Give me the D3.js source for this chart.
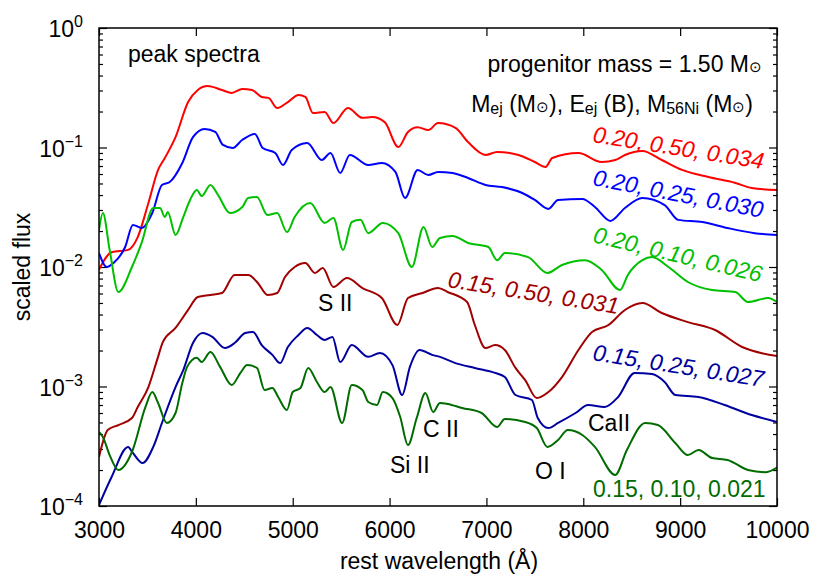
<!DOCTYPE html>
<html>
<head>
<meta charset="utf-8">
<script src="https://cdn.jsdelivr.net/npm/d3@7"></script>
<style>
  body { margin: 0; background: #fff; }
  svg text { font-family: "Liberation Sans", Arial, Helvetica, sans-serif; fill: #000; }
</style>
</head>
<body>
<svg id="chart" width="830" height="581"></svg>
<script>
// peak spectra, [wavelength (A), scaled flux]
const spec020_050 = [[3000,0.0095],[3130,0.0133],[3300,0.0139],[3400,0.0178],[3510,0.0343],[3610,0.0649],[3680,0.0817],[3790,0.122],[3920,0.240],[4020,0.303],[4120,0.327],[4270,0.303],[4370,0.286],[4480,0.309],[4580,0.303],[4680,0.265],[4750,0.260],[4840,0.214],[4950,0.240],[5060,0.275],[5130,0.265],[5210,0.194],[5330,0.198],[5420,0.160],[5570,0.214],[5720,0.177],[5820,0.180],[5950,0.163],[6090,0.101],[6190,0.135],[6290,0.148],[6400,0.140],[6500,0.160],[6680,0.146],[6810,0.111],[6990,0.0866],[7110,0.0917],[7330,0.0866],[7500,0.0756],[7610,0.0687],[7680,0.0817],[7950,0.0899],[8190,0.0756],[8330,0.0786],[8430,0.0866],[8610,0.0935],[8810,0.0786],[9020,0.0649],[9290,0.0566],[9570,0.0505],[9740,0.0458],[10000,0.0441]];

const spec020_025 = [[3000,0.0131],[3080,0.0100],[3150,0.0108],[3270,0.0147],[3350,0.0225],[3440,0.0212],[3550,0.0283],[3650,0.0486],[3730,0.0514],[3860,0.0742],[3970,0.122],[4090,0.143],[4200,0.135],[4280,0.105],[4380,0.099],[4480,0.116],[4610,0.130],[4690,0.099],[4820,0.0899],[4900,0.0714],[4990,0.0953],[5150,0.109],[5300,0.0786],[5390,0.0899],[5490,0.0612],[5590,0.0866],[5780,0.0714],[5920,0.0742],[6060,0.0624],[6160,0.0378],[6290,0.0649],[6400,0.0589],[6500,0.0624],[6650,0.0612],[6810,0.0556],[6990,0.0486],[7160,0.0467],[7370,0.0416],[7500,0.0364],[7640,0.0306],[7740,0.0364],[7990,0.0371],[8120,0.0318],[8280,0.0243],[8430,0.0312],[8610,0.0378],[8840,0.0330],[8980,0.0248],[9230,0.0238],[9490,0.0212],[9770,0.0192],[10000,0.0185]];

const spec020_010 = [[3000,0.0204],[3040,0.0283],[3110,0.0139],[3200,0.00618],[3340,0.0100],[3440,0.0159],[3560,0.0312],[3630,0.0312],[3680,0.0262],[3710,0.0288],[3790,0.0185],[3870,0.0262],[3940,0.0364],[4010,0.0441],[4060,0.0393],[4150,0.0486],[4230,0.0400],[4350,0.0283],[4480,0.0318],[4540,0.0378],[4630,0.0385],[4740,0.0272],[4840,0.0283],[4940,0.0196],[5020,0.0262],[5180,0.0343],[5330,0.0234],[5420,0.0257],[5520,0.0139],[5610,0.0238],[5700,0.0248],[5780,0.0192],[5930,0.0234],[6090,0.0192],[6230,0.0100],[6350,0.0216],[6440,0.0147],[6520,0.0175],[6650,0.0182],[6810,0.0159],[7020,0.0147],[7110,0.0114],[7190,0.0131],[7430,0.0121],[7630,0.00891],[7780,0.0104],[8020,0.0114],[8190,0.00944],[8380,0.00642],[8460,0.00857],[8610,0.0114],[8710,0.0121],[8880,0.0100],[9080,0.00749],[9330,0.00642],[9570,0.00618],[9700,0.00509],[9910,0.00550],[10000,0.00509]];

const spec015_050 = [[3000,0.000257],[3090,0.000432],[3200,0.000476],[3340,0.000545],[3400,0.000674],[3510,0.00099],[3600,0.00167],[3660,0.00236],[3790,0.00309],[3920,0.00437],[4020,0.00561],[4150,0.00583],[4270,0.00606],[4400,0.00857],[4540,0.00857],[4640,0.00735],[4740,0.00583],[4840,0.00606],[4920,0.00825],[5020,0.0100],[5130,0.0108],[5230,0.00891],[5310,0.00981],[5420,0.00680],[5560,0.00809],[5720,0.00667],[5920,0.00550],[6080,0.00327],[6190,0.00550],[6340,0.00606],[6500,0.00667],[6600,0.00618],[6800,0.00509],[6880,0.00327],[6990,0.00210],[7090,0.00222],[7190,0.00202],[7300,0.00143],[7400,0.00113],[7520,0.000801],[7640,0.000899],[7780,0.00120],[7950,0.00202],[8090,0.00286],[8260,0.00327],[8430,0.00437],[8610,0.00500],[8810,0.00412],[9080,0.00346],[9360,0.00297],[9640,0.00214],[10000,0.00180]];

const spec015_025 = [[3000,0.000102],[3130,0.000175],[3300,0.000312],[3350,0.000278],[3450,0.000229],[3560,0.000312],[3650,0.000495],[3790,0.00099],[3870,0.00137],[3970,0.00231],[4070,0.00280],[4170,0.00260],[4300,0.00210],[4400,0.00231],[4510,0.00280],[4590,0.00286],[4680,0.00222],[4790,0.00184],[4870,0.00157],[4950,0.00214],[5060,0.00270],[5150,0.00309],[5250,0.00270],[5330,0.00245],[5410,0.00260],[5490,0.00160],[5610,0.00222],[5780,0.00177],[5900,0.00191],[6030,0.00151],[6130,0.000849],[6210,0.00146],[6310,0.00202],[6440,0.00184],[6520,0.00177],[6680,0.00157],[6880,0.00143],[7090,0.00130],[7190,0.00120],[7300,0.000849],[7470,0.000771],[7530,0.000545],[7640,0.000449],[7740,0.000495],[7920,0.000600],[8050,0.000700],[8220,0.000674],[8360,0.000817],[8530,0.00130],[8710,0.00127],[8840,0.00109],[8950,0.000849],[9190,0.000817],[9460,0.000700],[9740,0.000577],[10000,0.000505]];

const spec015_010 = [[3000,0.000416],[3040,0.000378],[3110,0.000267],[3200,0.000200],[3340,0.000283],[3480,0.000674],[3550,0.000899],[3610,0.000728],[3700,0.000495],[3790,0.000600],[3860,0.00107],[3910,0.00146],[4010,0.00174],[4060,0.00160],[4150,0.00194],[4250,0.00146],[4370,0.00103],[4460,0.00130],[4530,0.00151],[4630,0.00143],[4710,0.000935],[4790,0.000972],[4850,0.000817],[4940,0.000636],[5000,0.000899],[5080,0.000972],[5160,0.00143],[5250,0.00109],[5330,0.000899],[5390,0.00099],[5510,0.000495],[5610,0.00103],[5720,0.000935],[5780,0.000742],[5870,0.000700],[5930,0.000899],[6030,0.000801],[6110,0.000556],[6190,0.000324],[6280,0.000545],[6370,0.000882],[6450,0.000612],[6520,0.000728],[6600,0.000714],[6750,0.000661],[6950,0.000600],[7110,0.000458],[7190,0.000535],[7400,0.000505],[7520,0.000449],[7630,0.000312],[7740,0.000357],[7840,0.000432],[7990,0.000393],[8120,0.000312],[8330,0.000182],[8450,0.000294],[8640,0.000495],[8770,0.000476],[8950,0.000337],[9080,0.000267],[9190,0.000294],[9330,0.000252],[9490,0.000243],[9700,0.000200],[9880,0.000192],[10000,0.000210]];

const seriesLabels = ['0.20, 0.50, 0.034', '0.20, 0.25, 0.030', '0.20, 0.10, 0.026',
                      '0.15, 0.50, 0.031', '0.15, 0.25, 0.027', '0.15, 0.10, 0.021'];

const xTicks = [3000, 4000, 5000, 6000, 7000, 8000, 9000, 10000];
const yDecades = [1, 0.1, 0.01, 0.001, 0.0001];
const yExponents = ['0', '\u22121', '\u22122', '\u22123', '\u22124'];

const lineNames = ['S II', 'Si II', 'C II', 'O I', 'CaII'];

// styles and placement
const colors = ['#ff0000', '#0000ff', '#00c000', '#a00000', '#0000a0', '#006c00'];
const labelPos = [
  {x: 592, y: 142, rot: 9, italic: true},
  {x: 592, y: 185, rot: 11, italic: true},
  {x: 592, y: 242, rot: 13.5, italic: true},
  {x: 447, y: 287, rot: 9, italic: true},
  {x: 592, y: 360, rot: 9, italic: true},
  {x: 593, y: 497, rot: 0, italic: false}
];
const linePos = [[318, 311], [390, 473], [423, 437], [535, 479], [588, 431]];

const margin = {top: 28, right: 53, bottom: 75, left: 99};
const width = 830 - margin.left - margin.right;
const height = 581 - margin.top - margin.bottom;
const fontSize = 23;

const svg = d3.select('#chart');

const xScale = d3.scaleLinear().domain([3000, 10000]).range([0, width]);
const yScale = d3.scaleLog().domain([1e-4, 1]).range([height, 0]);

const vis = svg.append('g')
  .attr('transform', 'translate(' + margin.left + ',' + margin.top + ')');

vis.append('clipPath').attr('id', 'plot-clip')
  .append('rect').attr('width', width).attr('height', height);

// axes with inward ticks
const minorTicks = yScale.ticks().filter(function(d) {
  return yDecades.indexOf(d) < 0;
});

function styleAxis(g) {
  g.select('.domain').remove();
  g.selectAll('.tick line').attr('stroke', '#000').attr('stroke-width', 1.2);
  g.selectAll('.tick text').style('font-size', fontSize + 'px');
}

vis.append('g')
  .attr('transform', 'translate(0,' + height + ')')
  .call(d3.axisBottom(xScale).tickValues(xTicks).tickSize(-8).tickPadding(16).tickFormat(d3.format('d')))
  .call(styleAxis);

vis.append('g')
  .call(d3.axisTop(xScale).tickValues(xTicks).tickSize(-8).tickFormat(''))
  .call(styleAxis);

vis.append('g')
  .call(d3.axisLeft(yScale).tickValues(yDecades).tickSize(-8).tickFormat(''))
  .call(styleAxis);

vis.append('g')
  .call(d3.axisLeft(yScale).tickValues(minorTicks).tickSize(-4).tickFormat(''))
  .call(styleAxis);

vis.append('g')
  .attr('transform', 'translate(' + width + ',0)')
  .call(d3.axisRight(yScale).tickValues(yDecades).tickSize(-8).tickFormat(''))
  .call(styleAxis);

vis.append('g')
  .attr('transform', 'translate(' + width + ',0)')
  .call(d3.axisRight(yScale).tickValues(minorTicks).tickSize(-4).tickFormat(''))
  .call(styleAxis);

// decade labels 10^n
yDecades.forEach(function(d, i) {
  let t = vis.append('text')
    .attr('x', -16)
    .attr('y', yScale(d) + 9)
    .attr('text-anchor', 'end')
    .style('font-size', fontSize + 'px');
  t.append('tspan').text('10');
  t.append('tspan')
    .attr('dy', -10)
    .style('font-size', '16px')
    .text(yExponents[i]);
});

// spectra
const spectra = [spec020_050, spec020_025, spec020_010, spec015_050, spec015_025, spec015_010];

const line = d3.line()
  .x(function(d) { return xScale(d[0]); })
  .y(function(d) { return yScale(d[1]); })
  .curve(d3.curveMonotoneX);

spectra.forEach(function(data, i) {
  vis.append('path')
    .datum(data)
    .attr('clip-path', 'url(#plot-clip)')
    .attr('fill', 'none')
    .attr('stroke', colors[i])
    .attr('stroke-width', 2)
    .attr('stroke-linejoin', 'round')
    .attr('d', line);
});

// frame
vis.append('rect')
  .attr('width', width)
  .attr('height', height)
  .attr('fill', 'none')
  .attr('stroke', '#000')
  .attr('stroke-width', 1.5);

// axis titles
svg.append('text')
  .attr('x', 439)
  .attr('y', 569)
  .attr('text-anchor', 'middle')
  .style('font-size', fontSize + 'px')
  .text('rest wavelength (\u00c5)');

svg.append('text')
  .attr('transform', 'translate(30,267) rotate(-90)')
  .attr('text-anchor', 'middle')
  .style('font-size', fontSize + 'px')
  .text('scaled flux');

// key texts
svg.append('text')
  .attr('x', 128)
  .attr('y', 62)
  .style('font-size', fontSize + 'px')
  .text('peak spectra');

let prog = svg.append('text')
  .attr('x', 762)
  .attr('y', 72)
  .attr('text-anchor', 'end')
  .style('font-size', fontSize + 'px');
prog.append('tspan').text('progenitor mass = 1.50 M');
prog.append('tspan').style('font-size', '15px').text('\u2299');

let head = svg.append('text')
  .attr('x', 753)
  .attr('y', 112)
  .attr('text-anchor', 'end')
  .style('font-size', fontSize + 'px');
function addPart(txt, kind) {
  let s = head.append('tspan').text(txt);
  if (kind === 'sub') {
    s.style('font-size', '16px').attr('dy', 2);
  } else if (kind === 'sun') {
    s.style('font-size', '15px');
  }
  return s;
}
addPart('M');
addPart('ej', 'sub');
addPart(' (M').attr('dy', -2);
addPart('\u2299', 'sun');
addPart('), E');
addPart('ej', 'sub');
addPart(' (B), M').attr('dy', -2);
addPart('56Ni', 'sub');
addPart(' (M').attr('dy', -2);
addPart('\u2299', 'sun');
addPart(')');

// series labels
seriesLabels.forEach(function(lbl, i) {
  let p = labelPos[i];
  svg.append('text')
    .attr('transform', 'translate(' + p.x + ',' + p.y + ') rotate(' + p.rot + ')')
    .style('font-size', fontSize + 'px')
    .style('font-style', p.italic ? 'italic' : 'normal')
    .style('fill', colors[i])
    .text(lbl);
});

// line identifications
lineNames.forEach(function(name, i) {
  svg.append('text')
    .attr('x', linePos[i][0])
    .attr('y', linePos[i][1])
    .style('font-size', fontSize + 'px')
    .text(name);
});
</script>
</body>
</html>
